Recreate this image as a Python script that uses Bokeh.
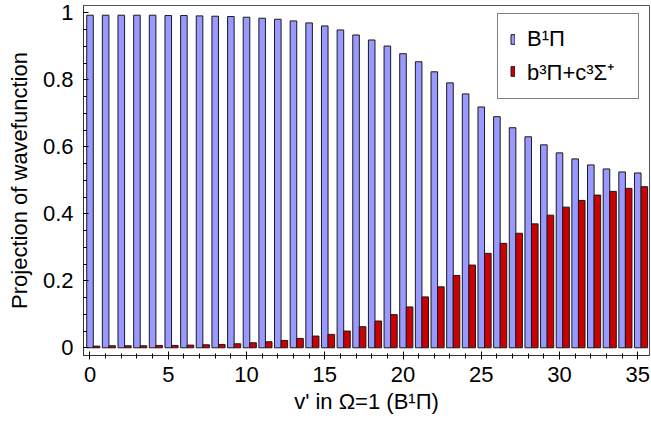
from bokeh.plotting import figure
from bokeh.models import Range1d, FixedTicker, CustomJSTickFormatter, Legend, LegendItem, ColumnDataSource
from bokeh.transform import dodge
from bokeh.embed import file_html
from bokeh.resources import INLINE
import numpy as np

v = list(range(36))
b1pi = [0.993, 0.993, 0.993, 0.993, 0.993, 0.992, 0.992, 0.991, 0.990, 0.989,
        0.987, 0.984, 0.981, 0.976, 0.970, 0.961, 0.949, 0.934, 0.919, 0.901,
        0.878, 0.854, 0.824, 0.791, 0.758, 0.719, 0.690, 0.657, 0.630, 0.606,
        0.582, 0.564, 0.546, 0.534, 0.525, 0.522]
b3pi_c3sigma = [0.005, 0.006, 0.006, 0.006, 0.007, 0.007, 0.008, 0.009, 0.010, 0.012,
                0.015, 0.018, 0.022, 0.028, 0.035, 0.040, 0.050, 0.063, 0.080, 0.099,
                0.122, 0.152, 0.182, 0.216, 0.247, 0.282, 0.312, 0.342, 0.370, 0.396,
                0.420, 0.440, 0.456, 0.467, 0.476, 0.481]

x_major = [0, 5, 10, 15, 20, 25, 30, 35]
y_major = [0, 0.2, 0.4, 0.6, 0.8, 1.0]

FONT = "Liberation Sans"
FS = "22px"

p = figure(width=651, height=425, output_backend="svg", toolbar_location=None,
           x_range=Range1d(-0.415, 35.75), y_range=Range1d(-0.023, 1.022),
           min_border_left=83, min_border_right=2, min_border_top=5, min_border_bottom=70)
p.grid.visible = False
p.outline_line_color = "#555555"
p.outline_line_width = 1

src = ColumnDataSource(dict(v=v, b=b1pi, r=b3pi_c3sigma))
W = 0.42
rb = p.vbar(x='v', top='b', bottom=0, width=W, fill_color="#9999ff",
            line_color="#1a1a1a", line_width=1, source=src)
rr = p.vbar(x=dodge('v', W), top='r', bottom=0, width=W, fill_color="#cc0000",
            line_color="#1a1a1a", line_width=1, source=src)

xa = p.xaxis[0]
xa.ticker = FixedTicker(ticks=x_major, minor_ticks=list(range(36)))
xa.major_tick_in = 4
xa.major_tick_out = 4
xa.minor_tick_in = 2
xa.minor_tick_out = 3
xa.major_tick_line_color = "black"
xa.minor_tick_line_color = "black"
xa.major_label_standoff = 7
xa.major_label_text_font = FONT
xa.major_label_text_font_size = FS
xa.major_label_text_color = "black"
xa.axis_label = "v' in \u03a9=1 (B\u00b9\u03a0)"
xa.axis_label_text_font = FONT
xa.axis_label_text_font_size = FS
xa.axis_label_text_font_style = "normal"
xa.axis_label_text_color = "black"
xa.axis_label_standoff = 4
xa.axis_line_color = "#333333"

ya = p.yaxis[0]
ya.ticker = FixedTicker(ticks=y_major, minor_ticks=list(np.round(np.arange(0, 1.0001, 0.05), 2)))
ya.formatter = CustomJSTickFormatter(code="return String(Math.round(tick*100)/100)")
ya.major_tick_in = 5
ya.major_tick_out = 0
ya.minor_tick_in = 3
ya.minor_tick_out = 0
ya.major_tick_line_color = "black"
ya.minor_tick_line_color = "black"
ya.major_label_standoff = 10
ya.major_label_text_font = FONT
ya.major_label_text_font_size = FS
ya.major_label_text_color = "black"
ya.axis_label = "Projection of wavefunction"
ya.axis_label_text_font = FONT
ya.axis_label_text_font_size = FS
ya.axis_label_text_font_style = "normal"
ya.axis_label_text_color = "black"
ya.axis_label_standoff = 8
ya.axis_line_color = "#333333"

legend = Legend(items=[LegendItem(label="B\u00b9\u03a0", renderers=[rb]),
                       LegendItem(label="b\u00b3\u03a0+c\u00b3\u03a3\u207a", renderers=[rr])],
                location=(414, 256), margin=0,
                label_text_font=FONT, label_text_font_size=FS, label_text_color="black",
                glyph_width=5, glyph_height=12, label_standoff=12,
                label_width=99, label_height=26,
                padding=12, spacing=4,
                border_line_color="black", border_line_width=1,
                background_fill_alpha=1.0)
p.add_layout(legend)

open("out.html", "w").write(file_html(p, INLINE))
